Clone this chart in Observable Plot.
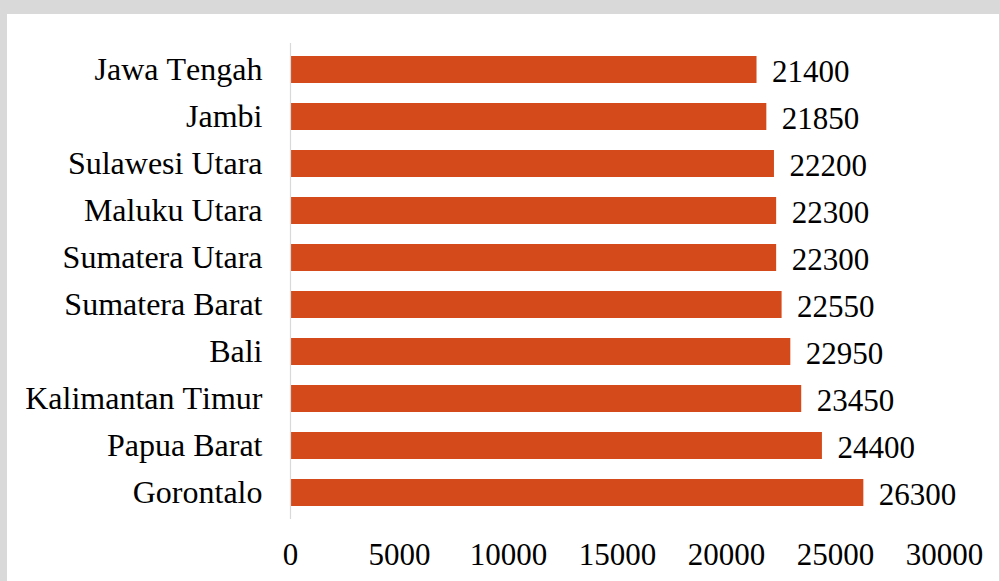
<!DOCTYPE html>
<html>
<head>
<meta charset="utf-8">
<script src="https://cdn.jsdelivr.net/npm/d3@7"></script>
<script src="https://cdn.jsdelivr.net/npm/@observablehq/plot@0.6"></script>
<style>
  html, body { margin: 0; padding: 0; background: #d9d9d9; width: 1000px; height: 581px; overflow: hidden; }
  #panel { position: absolute; left: 7px; top: 14px; width: 992px; height: 567px; background: #ffffff; }
  #panel svg { display: block; }
  #panel svg text { font-kerning: none; font-feature-settings: "kern" 0; }
</style>
</head>
<body>
<div id="panel"></div>
<script>
const provinces = ["Jawa Tengah", "Jambi", "Sulawesi Utara", "Maluku Utara", "Sumatera Utara",
  "Sumatera Barat", "Bali", "Kalimantan Timur", "Papua Barat", "Gorontalo"];
const values = [21400, 21850, 22200, 22300, 22300, 22550, 22950, 23450, 24400, 26300];
const xTicks = [0, 5000, 10000, 15000, 20000, 25000, 30000];

const data = provinces.map((p, i) => ({province: p, value: values[i]}));
const font = "'Liberation Serif', 'Times New Roman', serif";

const chart = Plot.plot({
  width: 992,
  height: 567,
  marginLeft: 283,
  marginRight: 55,
  marginTop: 29,
  marginBottom: 62,
  style: {fontFamily: font, fontSize: "31px", color: "#000", background: "transparent", overflow: "visible"},
  x: {domain: [0, 30000], ticks: xTicks, tickFormat: d => String(d)},
  y: {domain: provinces, paddingInner: 0.43, paddingOuter: 0.232},
  marks: [
    Plot.barX(data, {x: "value", y: "province", fill: "#d44a1a"}),
    Plot.ruleX([0], {stroke: "#d9d9d9", strokeWidth: 1.2}),
    Plot.text(data, {x: "value", y: "province", text: d => String(d.value), textAnchor: "start", dx: 15, dy: 2, fill: "#000", fontSize: 31}),
    Plot.axisX({ticks: xTicks, tickFormat: d => String(d), tickSize: 0, tickPadding: 23, label: null, fontSize: 31}),
    Plot.axisY({tickSize: 0, tickPadding: 28, label: null, fontSize: 32})
  ]
});
document.getElementById("panel").appendChild(chart);
</script>
</body>
</html>
